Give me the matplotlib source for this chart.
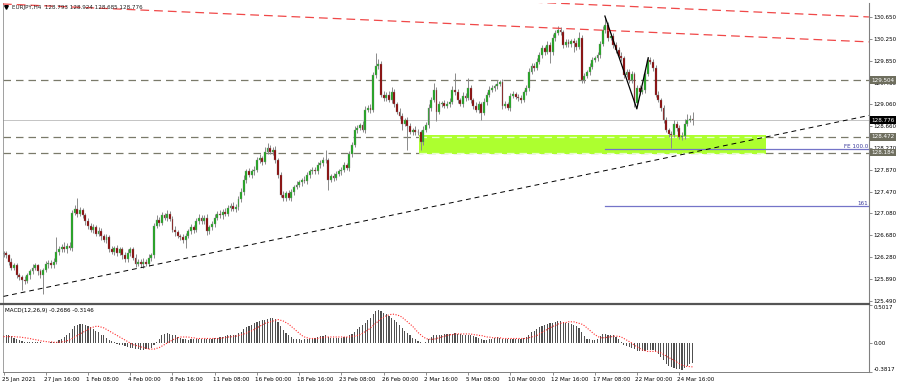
import matplotlib
matplotlib.use('Agg')
import matplotlib.pyplot as plt
import matplotlib.transforms as mtransforms
from matplotlib.patches import Rectangle
from matplotlib.lines import Line2D
import numpy as np

plt.rcParams['font.family'] = ['DejaVu Sans']

# ---------------- data ----------------
symbol_title = "EURJPY,H4  128.793 128.924 128.685 128.776"
macd_title = "MACD(12,26,9) -0.2686 -0.3146"

first_open = 126.33
closes = [
    126.35, 126.31, 126.20, 126.09, 126.13, 125.96, 125.91, 125.87, 125.84, 125.95,
    126.02, 126.09, 126.13, 126.02, 125.95, 126.05, 126.15, 126.18, 126.13, 126.20,
    126.38, 126.42, 126.47, 126.42, 126.49, 126.45, 127.09, 127.16, 127.07, 127.13,
    127.04, 126.93, 126.85, 126.78, 126.82, 126.71, 126.76, 126.67, 126.60, 126.64,
    126.42, 126.38, 126.45, 126.35, 126.42, 126.31, 126.24, 126.36, 126.42, 126.27,
    126.16, 126.20, 126.15, 126.20, 126.16, 126.27, 126.31, 126.85, 126.96, 126.91,
    127.04, 127.00, 127.07, 126.98, 126.78, 126.73, 126.67, 126.64, 126.60, 126.67,
    126.75, 126.82, 126.78, 126.93, 127.00, 126.94, 127.00, 126.75, 126.82, 126.89,
    127.00, 127.07, 127.04, 127.11, 127.07, 127.18, 127.22, 127.16, 127.20, 127.33,
    127.47, 127.69, 127.84, 127.78, 127.84, 127.87, 128.05, 128.09, 128.02, 128.20,
    128.27, 128.20, 128.24, 128.05, 127.78, 127.42, 127.36, 127.44, 127.36, 127.47,
    127.56, 127.60, 127.64, 127.69, 127.67, 127.78, 127.84, 127.87, 127.84, 127.95,
    128.00, 128.05, 128.04, 127.69, 127.76, 127.73, 127.80, 127.84, 127.87, 127.96,
    127.91, 128.15, 128.33, 128.60, 128.64, 128.69, 128.60, 128.96, 129.00, 128.96,
    129.60, 129.76, 129.80, 129.24, 129.18, 129.24, 129.14, 129.29, 129.07, 128.93,
    128.85, 128.71, 128.78, 128.67, 128.56, 128.60, 128.55, 128.56, 128.38, 128.60,
    128.69, 129.00, 129.14, 129.33, 128.93, 129.07, 129.09, 129.04, 129.07, 129.11,
    129.33, 129.29, 129.14, 129.07, 129.22, 129.18, 129.36, 129.14, 129.04, 128.96,
    129.07, 128.91, 129.11, 129.24, 129.33, 129.36, 129.40, 129.44, 129.47, 129.04,
    129.07, 129.00, 129.22, 129.25, 129.20, 129.18, 129.14, 129.29, 129.36, 129.65,
    129.76, 129.73, 129.84, 129.96, 130.09, 130.02, 130.15, 130.02, 130.27, 130.36,
    130.42, 130.38, 130.15, 130.20, 130.16, 130.22, 130.18, 130.11, 130.27, 129.51,
    129.58, 129.65, 129.75, 129.87, 129.91, 129.96, 130.16, 130.42, 130.51, 130.27,
    130.31, 130.15, 130.05, 129.95, 129.91, 129.60, 129.65, 129.51, 129.62, 129.09,
    129.36, 129.29, 129.33, 129.62, 129.87, 129.84, 129.73, 129.24, 129.14, 129.00,
    128.78, 128.60, 128.53, 128.51, 128.71, 128.64, 128.47, 128.49, 128.71, 128.78,
    128.793, 128.776,
]
wick_up = [
    .04, .05, .03, .06, .04, .05, .03, .04, .06, .05,
    .04, .06, .05, .03, .05, .04, .06, .05, .04, .07,
    .27, .06, .05, .08, .05, .06, .04, .07, .19, .06,
    .05, .04, .06, .05, .07, .04, .06, .05, .04, .06,
    .05, .07, .04, .06, .05, .04, .06, .07, .05, .04,
    .06, .05, .04, .06, .05, .07, .05, .06, .08, .05,
    .06, .04, .07, .05, .04, .06, .05, .04, .06, .05,
    .04, .06, .05, .07, .06, .04, .05, .06, .04, .05,
    .06, .05, .07, .04, .06, .05, .04, .06, .05, .07,
    .06, .08, .05, .06, .04, .07, .05, .06, .04, .08,
    .09, .06, .05, .06, .04, .05, .06, .04, .07, .05,
    .04, .06, .05, .04, .06, .05, .04, .06, .05, .07,
    .05, .06, .19, .05, .04, .06, .05, .04, .06, .05,
    .04, .06, .05, .07, .05, .04, .06, .07, .05, .06,
    .06, .24, .08, .05, .06, .04, .07, .09, .05, .04,
    .06, .05, .04, .06, .05, .04, .06, .05, .04, .06,
    .05, .07, .06, .12, .05, .06, .04, .06, .05, .06,
    .07, .31, .05, .04, .06, .05, .18, .05, .04, .06,
    .05, .04, .06, .05, .07, .05, .04, .06, .04, .05,
    .06, .04, .05, .06, .04, .05, .06, .04, .05, .07,
    .06, .05, .07, .05, .06, .04, .06, .05, .07, .05,
    .07, .06, .04, .05, .06, .04, .05, .06, .11, .06,
    .05, .04, .06, .05, .04, .06, .05, .07, .14, .06,
    .05, .06, .04, .05, .06, .04, .05, .06, .05, .04,
    .05, .06, .04, .06, .06, .05, .04, .05, .06, .04,
    .05, .06, .04, .05, .06, .04, .05, .06, .08, .10,
    .07, .131,
]
wick_dn = [
    .05, .04, .06, .05, .04, .06, .05, .18, .05, .04,
    .06, .05, .04, .06, .05, .35, .04, .06, .05, .04,
    .05, .06, .04, .05, .06, .04, .05, .04, .06, .05,
    .04, .06, .05, .04, .06, .05, .04, .07, .05, .06,
    .05, .04, .06, .05, .04, .06, .05, .04, .06, .05,
    .06, .04, .05, .06, .04, .05, .06, .05, .04, .06,
    .05, .04, .06, .05, .04, .06, .05, .04, .06, .15,
    .05, .04, .06, .05, .04, .06, .05, .06, .04, .05,
    .06, .04, .05, .06, .04, .05, .06, .04, .05, .06,
    .04, .05, .06, .04, .05, .06, .04, .05, .06, .04,
    .05, .04, .06, .05, .06, .04, .05, .06, .04, .05,
    .06, .04, .05, .06, .04, .05, .06, .04, .05, .04,
    .05, .06, .04, .18, .05, .06, .04, .05, .06, .04,
    .05, .06, .04, .05, .06, .04, .05, .06, .04, .05,
    .04, .06, .05, .04, .06, .05, .04, .06, .05, .04,
    .06, .11, .05, .43, .04, .06, .05, .04, .14, .05,
    .04, .06, .05, .04, .18, .05, .06, .04, .05, .06,
    .04, .05, .06, .04, .05, .06, .04, .05, .06, .04,
    .05, .13, .04, .06, .05, .04, .06, .05, .04, .06,
    .05, .04, .06, .05, .04, .06, .05, .04, .06, .05,
    .04, .06, .05, .04, .06, .05, .04, .20, .05, .06,
    .04, .05, .06, .04, .05, .06, .16, .05, .04, .06,
    .05, .04, .06, .05, .04, .06, .05, .04, .06, .05,
    .04, .06, .05, .04, .06, .05, .04, .06, .05, .07,
    .06, .05, .04, .06, .05, .04, .06, .05, .04, .06,
    .05, .04, .06, .25, .05, .06, .04, .05, .06, .05,
    .04, .091,
]
macd_main = [
    0.11, 0.10, 0.10, 0.09, 0.07,
    0.05, 0.04, 0.03, 0.02, 0.02, 0.02, 0.02, 0.02, 0.01, 0.01, 0.00,
    0.00, 0.00, 0.01, 0.01, 0.02,
    0.04, 0.06, 0.08, 0.10, 0.13, 0.18, 0.22, 0.24,
    0.25, 0.25, 0.24, 0.23,
    0.21, 0.18, 0.16, 0.14, 0.11, 0.10, 0.07, 0.04, 0.03, 0.01, -0.01,
    -0.02, -0.03, -0.04, -0.05, -0.06, -0.07, -0.08, -0.08, -0.09, -0.09, -0.08, -0.08, -0.06, -0.03,
    0.02, 0.06, 0.10, 0.12, 0.13, 0.12,
    0.11, 0.10, 0.08, 0.07, 0.06, 0.05, 0.04,
    0.05, 0.05, 0.06, 0.06, 0.06, 0.06, 0.05, 0.06, 0.06, 0.07,
    0.07, 0.08, 0.08, 0.09, 0.10, 0.10, 0.11, 0.11, 0.13, 0.15, 0.18,
    0.21, 0.23, 0.24, 0.26, 0.28, 0.29, 0.30, 0.31, 0.32, 0.33, 0.33, 0.32,
    0.28, 0.22, 0.17, 0.13, 0.10, 0.08,
    0.06, 0.05, 0.05, 0.04, 0.05, 0.05, 0.06, 0.06, 0.07, 0.08,
    0.09, 0.09, 0.10, 0.08, 0.07, 0.07, 0.07, 0.07, 0.07, 0.08,
    0.08, 0.10, 0.12, 0.15,
    0.18, 0.21, 0.24, 0.27, 0.30, 0.33, 0.38, 0.42, 0.44, 0.42,
    0.40, 0.38, 0.36, 0.33, 0.31, 0.28, 0.24, 0.20, 0.16, 0.13, 0.10, 0.07, 0.05, 0.03, 0.01,
    0.00, 0.02, 0.05, 0.08, 0.10, 0.10, 0.11, 0.11, 0.12, 0.12,
    0.12, 0.12, 0.13, 0.12, 0.12, 0.11, 0.11, 0.11, 0.10, 0.09, 0.08, 0.07, 0.05, 0.04,
    0.04, 0.05, 0.06, 0.07, 0.08, 0.07, 0.06, 0.06, 0.05, 0.05, 0.06, 0.06, 0.06, 0.06, 0.07, 0.08,
    0.11, 0.14, 0.16, 0.18, 0.21, 0.23, 0.24, 0.25, 0.26, 0.27, 0.28, 0.29, 0.29,
    0.28, 0.27, 0.26, 0.25, 0.24, 0.22, 0.20, 0.14, 0.09,
    0.06, 0.05, 0.04, 0.04, 0.06,
    0.09, 0.12, 0.12, 0.11, 0.10, 0.10, 0.08, 0.05,
    0.02, -0.02, -0.04, -0.05, -0.06, -0.08, -0.10, -0.11, -0.11,
    -0.11, -0.09, -0.09, -0.09, -0.11,
    -0.15, -0.19, -0.23, -0.27, -0.30, -0.32, -0.33, -0.34, -0.34, -0.35, -0.33,
    -0.30, -0.28, -0.2686,
]
macd_signal = [
    0.085, 0.085, 0.085, 0.085, 0.085, 0.08, 0.08, 0.075, 0.07, 0.065,
    0.06, 0.05, 0.045, 0.04, 0.03, 0.025, 0.02, 0.015, 0.015, 0.01,
    0.01, 0.01, 0.015, 0.02, 0.03, 0.04, 0.06, 0.08, 0.10, 0.12,
    0.14, 0.16, 0.18, 0.20, 0.21, 0.22, 0.22, 0.21, 0.20, 0.18,
    0.16, 0.14, 0.12, 0.10, 0.08, 0.06, 0.04, 0.02, 0.00, -0.02,
    -0.03, -0.04, -0.05, -0.06, -0.07, -0.08, -0.08, -0.08, -0.07, -0.06,
    -0.04, -0.02, 0.00, 0.02, 0.04, 0.06, 0.07, 0.08, 0.08, 0.08,
    0.08, 0.07, 0.07, 0.06, 0.06, 0.06, 0.06, 0.06, 0.06, 0.06,
    0.06, 0.06, 0.06, 0.07, 0.07, 0.08, 0.08, 0.09, 0.09, 0.10,
    0.11, 0.12, 0.13, 0.15, 0.16, 0.18, 0.20, 0.22, 0.24, 0.26,
    0.27, 0.28, 0.29, 0.30, 0.31, 0.30, 0.29, 0.27, 0.25, 0.22,
    0.19, 0.16, 0.13, 0.10, 0.08, 0.07, 0.06, 0.06, 0.06, 0.06,
    0.07, 0.07, 0.08, 0.08, 0.08, 0.08, 0.08, 0.08, 0.08, 0.08,
    0.08, 0.08, 0.09, 0.09, 0.10, 0.11, 0.13, 0.15, 0.17, 0.20,
    0.23, 0.26, 0.29, 0.32, 0.34, 0.36, 0.37, 0.38, 0.38, 0.37,
    0.36, 0.34, 0.31, 0.28, 0.25, 0.22, 0.18, 0.14, 0.11, 0.08,
    0.06, 0.05, 0.05, 0.05, 0.06, 0.07, 0.08, 0.09, 0.10, 0.11,
    0.11, 0.12, 0.12, 0.12, 0.12, 0.12, 0.12, 0.12, 0.11, 0.11,
    0.10, 0.10, 0.09, 0.08, 0.08, 0.07, 0.07, 0.07, 0.07, 0.06,
    0.06, 0.06, 0.06, 0.06, 0.06, 0.06, 0.06, 0.06, 0.06, 0.07,
    0.08, 0.09, 0.10, 0.12, 0.14, 0.16, 0.18, 0.20, 0.22, 0.23,
    0.25, 0.26, 0.27, 0.27, 0.28, 0.28, 0.28, 0.27, 0.26, 0.25,
    0.23, 0.20, 0.17, 0.14, 0.11, 0.09, 0.07, 0.07, 0.07, 0.08,
    0.08, 0.09, 0.09, 0.09, 0.08, 0.06, 0.04, 0.02, 0.00, -0.03,
    -0.05, -0.07, -0.09, -0.10, -0.11, -0.11, -0.11, -0.11, -0.12, -0.13,
    -0.15, -0.17, -0.19, -0.21, -0.23, -0.25, -0.27, -0.29, -0.30, -0.31,
    -0.31, -0.3146,
]

date_labels = ["25 Jan 2021", "27 Jan 16:00", "1 Feb 08:00", "4 Feb 00:00", "8 Feb 16:00",
               "11 Feb 08:00", "16 Feb 00:00", "18 Feb 16:00", "23 Feb 08:00", "26 Feb 00:00",
               "2 Mar 16:00", "5 Mar 08:00", "10 Mar 00:00", "12 Mar 16:00", "17 Mar 08:00",
               "22 Mar 00:00", "24 Mar 16:00"]
date_label_bars = [0, 16, 32, 48, 64, 80, 96, 112, 128, 144, 160, 176, 192, 208, 224, 240, 256]
price_ticks = [130.650, 130.250, 129.850, 129.460, 129.060, 128.660, 128.270,
               127.870, 127.470, 127.080, 126.680, 126.280, 125.890, 125.490]
macd_ticks = [0.5017, 0.0, -0.3817]
macd_tick_labels = ["0.5017", "0.00", "-0.3817"]

h_levels = [129.504, 128.472, 128.184]
current_price = 128.776
zone_bars = [157.4, 288.8]
zone_prices = [128.16, 128.50]
trend_black_bars = [0.0, 327.8]
trend_black_prices = [125.565, 128.86]
red1_bars = [180.0, 327.8]
red1_prices = [130.967, 130.654]
red2_bars = [-0.19, 327.8]
red2_prices = [130.89, 130.20]
zigzag_bars = [227.8, 239.9, 244.2]
zigzag_prices = [130.67, 128.98, 129.91]
fe_start_bar = 227.9
fe_names = ["FE 100.0", "161"]
fe_levels = [128.25, 127.22]

n = len(closes)
assert len(wick_up) == n and len(wick_dn) == n and len(macd_main) == n and len(macd_signal) == n, \
    (n, len(wick_up), len(wick_dn), len(macd_main), len(macd_signal))

# ---------------- figure ----------------
W, H = 900, 387
fig = plt.figure(figsize=(W / 100, H / 100), dpi=100, facecolor='white')
L, R = 3, 869
ax = fig.add_axes([L / W, (H - 301.5) / H, (R - L) / W, (301.5 - 3) / H])
ax2 = fig.add_axes([L / W, (H - 372) / H, (R - L) / W, (372 - 305) / H])

xlim = (-0.19, 327.84)
ax.set_xlim(*xlim)
ax2.set_xlim(*xlim)
ax.set_ylim(125.472, 130.908)
ax2.set_ylim(-0.3817, 0.5017)

idx = np.arange(n)
c = np.array(closes)
o = np.array([first_open] + closes[:-1])
hi = np.maximum(o, c) + np.array(wick_up)
lo = np.minimum(o, c) - np.array(wick_dn)

grid_gray = '#7a7a6a'
fs = 4.1

# current price line
ax.axhline(current_price, color='#c4c4c4', lw=0.7, zorder=0.3)
# horizontal dashed levels
for lv in h_levels:
    ax.axhline(lv, color=grid_gray, lw=0.9, dashes=(6, 4), zorder=0.4)
# zone
ax.add_patch(Rectangle((zone_bars[0], zone_prices[0]), zone_bars[1] - zone_bars[0],
                       zone_prices[1] - zone_prices[0], fc='#adff2f', ec='none', zorder=0.6))
for lv in h_levels[1:]:
    ax.plot(zone_bars, [lv, lv], color='#e6ffc8', lw=0.9, dashes=(6, 4), zorder=0.7)

# FE lines
for name, lv in zip(fe_names, fe_levels):
    ax.plot([fe_start_bar, xlim[1]], [lv, lv], color='#7474c8', lw=0.9, zorder=0.8)
    ax.text(0.9988, lv, name, transform=mtransforms.blended_transform_factory(ax.transAxes, ax.transData),
            ha='right', va='bottom', fontsize=fs, color='#3a3a9a', zorder=5)

# candles
wick_color = '#8a8a8a'
ax.vlines(idx, lo, hi, color=wick_color, lw=0.7, zorder=2)
bull = c >= o
body_h = np.maximum(np.abs(c - o), 0.012)
body_b = np.minimum(o, c)
ax.bar(idx[bull], body_h[bull], bottom=body_b[bull], width=0.72, color='#19a819',
       edgecolor=wick_color, linewidth=0.25, zorder=2.1)
ax.bar(idx[~bull], body_h[~bull], bottom=body_b[~bull], width=0.72, color='#8b0000',
       edgecolor=wick_color, linewidth=0.25, zorder=2.1)

# trend lines
ax.plot(trend_black_bars, trend_black_prices, color='black', lw=0.7, dashes=(5, 4), zorder=3)
ax.plot(red1_bars, red1_prices, color='#f04848', lw=0.9, dashes=(7, 4), zorder=3)
ax.plot(red2_bars, red2_prices, color='#f04848', lw=0.9, dashes=(7, 4), zorder=3)
ax.plot(zigzag_bars, zigzag_prices, color='black', lw=0.9, zorder=4)

# axes styling
for a in (ax, ax2):
    a.set_facecolor('white')
    a.spines['top'].set_visible(False)
    a.spines['left'].set_color('#909090')
    a.spines['left'].set_linewidth(0.6)
    a.spines['right'].set_color('#808080')
    a.spines['right'].set_linewidth(0.8)
ax.spines['bottom'].set_visible(False)
ax2.spines['bottom'].set_color('#808080')
ax2.spines['bottom'].set_linewidth(0.7)

ax.yaxis.tick_right()
ax.set_yticks(price_ticks)
ax.set_yticklabels(['%.3f' % v for v in price_ticks])
ax.tick_params(axis='y', direction='out', length=2.2, width=0.5, color='#606060',
               pad=1.2, labelsize=fs, labelcolor='black')
ax.tick_params(axis='x', bottom=False, labelbottom=False)

# separator line between panels
fig.add_artist(Line2D([0, R / W], [(H - 303.5) / H, (H - 303.5) / H], color='#555555', lw=1.6))

# price boxes on the axis
btf = mtransforms.blended_transform_factory(ax.transAxes, ax.transData)
box_x = 1.0 + 2.5 / (R - L)
for lv in h_levels:
    ax.text(box_x, lv, '%.3f' % lv, transform=btf, ha='left', va='center', fontsize=fs,
            color='white', zorder=10, clip_on=False,
            bbox=dict(boxstyle='square,pad=0.22', fc='#6e6e5e', ec='none'))
ax.text(box_x, current_price, '%.3f' % current_price, transform=btf, ha='left', va='center',
        fontsize=fs, color='white', zorder=10, clip_on=False,
        bbox=dict(boxstyle='square,pad=0.22', fc='black', ec='none'))

# title
ax.plot([(5.5 - L) / (R - L)], [1 - (6.5 - 3) / 298.5], marker='v', ms=2.6, color='black',
        transform=ax.transAxes, clip_on=False, zorder=6)
ax.text((12 - L) / (R - L), 1 - (7 - 3) / 298.5, symbol_title, transform=ax.transAxes,
        ha='left', va='center', fontsize=fs, color='#202020', zorder=6)

# MACD panel
ax2.bar(idx, macd_main, width=0.45, color='#505050', linewidth=0, zorder=2)
ax2.plot(idx, macd_signal, color='#ff2a2a', lw=0.8, linestyle=(0, (1, 1.4)), zorder=3)
ax2.text((5 - L) / (R - L), 1 - 5.8 / 67, macd_title, transform=ax2.transAxes,
         ha='left', va='center', fontsize=fs, color='black')
ax2.yaxis.tick_right()
ax2.set_yticks(macd_ticks)
ax2.set_yticklabels(macd_tick_labels)
ax2.tick_params(axis='y', direction='out', length=2.2, width=0.5, color='#606060',
                pad=1.2, labelsize=fs, labelcolor='black')
ylabs = ax2.get_yticklabels()
ylabs[0].set_verticalalignment('top')
ylabs[2].set_verticalalignment('bottom')

ax2.set_xticks(date_label_bars)
ax2.set_xticklabels(date_labels, ha='left')
ax2.tick_params(axis='x', direction='out', length=2, width=0.5, color='#606060',
                pad=1.5, labelsize=fs, labelcolor='black')
shift = mtransforms.ScaledTranslation(-2 / 100, 0, fig.dpi_scale_trans)
for lab in ax2.get_xticklabels():
    lab.set_transform(lab.get_transform() + shift)

fig.savefig('out.png', dpi=100, facecolor='white')
